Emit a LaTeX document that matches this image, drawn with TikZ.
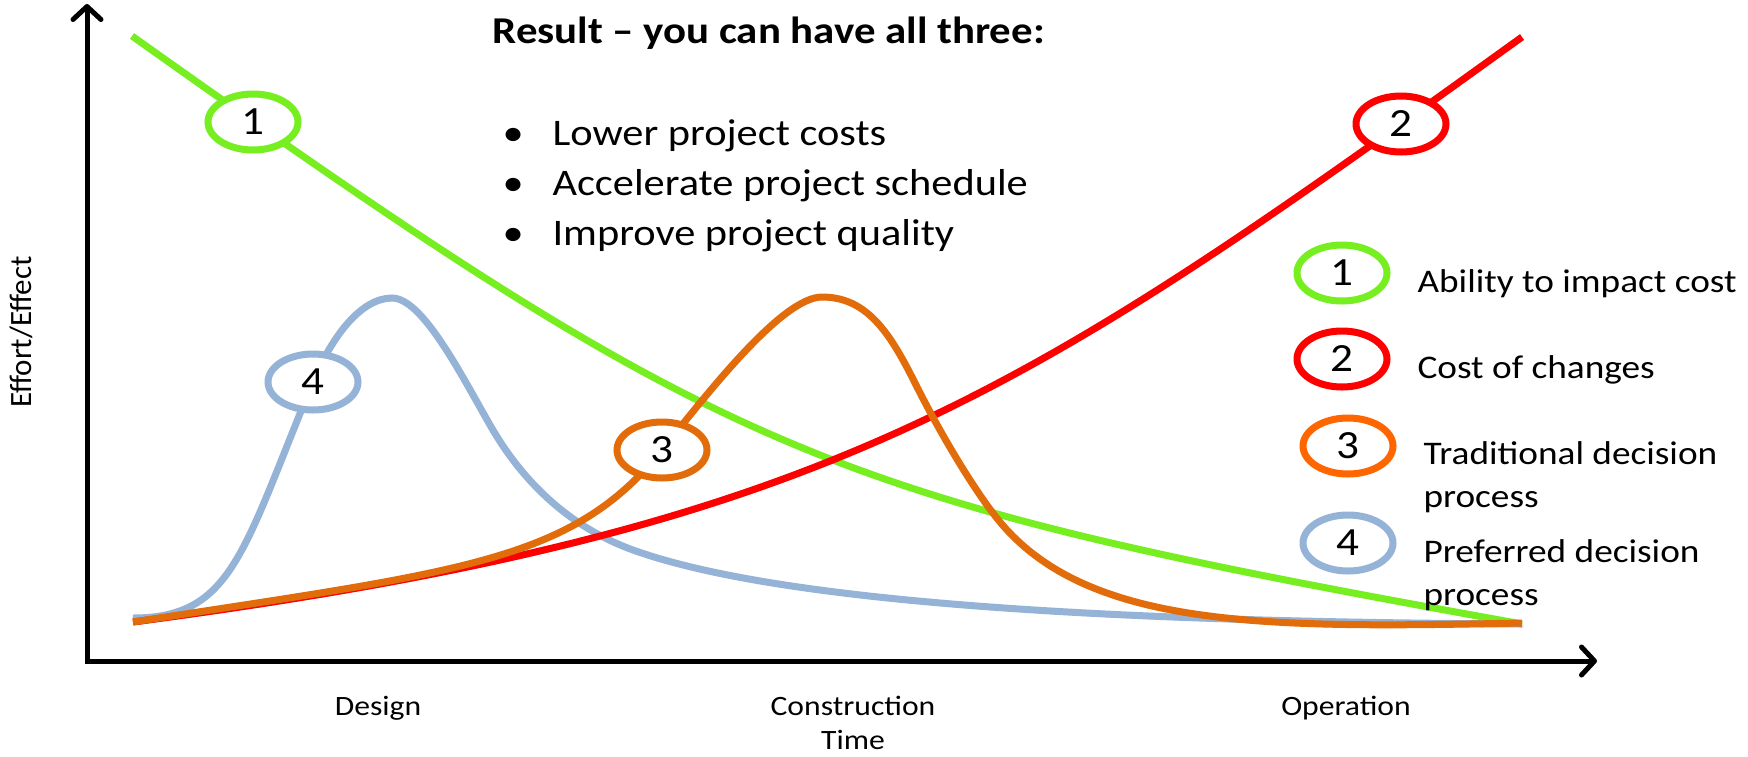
\documentclass[tikz,border=0pt]{standalone}
\usepackage{fontspec}
\setmainfont[FakeStretch=1.13]{Carlito}
\newfontfamily\plainfont{Carlito}
\usetikzlibrary{shapes.geometric,arrows.meta,shadows}
\definecolor{cgreen}{RGB}{118,238,32}
\definecolor{cred}{RGB}{255,0,0}
\definecolor{corange}{RGB}{227,108,10}
\definecolor{cbright}{RGB}{255,102,0}
\definecolor{cblue}{RGB}{149,179,215}
\begin{document}
\begin{tikzpicture}[x=1pt,y=-1pt,
  axis/.style={line width=5pt, line join=miter, {Straight Barb[length=13pt,width=28pt,round]}-{Straight Barb[length=13pt,width=28pt,round]}},
  shade/.style={preaction={draw=black, draw opacity=0.18, transform canvas={shift={(1.5pt,-3pt)}}}},
  curve/.style={line width=7pt, shade},
  badge/.style={ellipse, draw=#1, fill=white, line width=7pt, minimum width=90pt, minimum height=56pt, inner sep=0pt, font=\fontsize{40}{48}\selectfont, drop shadow={opacity=0.25, shadow xshift=1.5pt, shadow yshift=-3pt}},
  lbl/.style={anchor=base west, font=\fontsize{33}{40}\selectfont},
  bul/.style={anchor=base west, font=\fontsize{37.5}{45}\selectfont},
  axlbl/.style={anchor=base, font=\fontsize{28}{34}\selectfont},
]
\path[use as bounding box, fill=white] (0,0) rectangle (1748,756);

% axes
\coordinate (O) at (87,661);
\coordinate (Ytop) at (87,4);
\coordinate (Xend) at (1597,661);
\draw[axis] (Ytop) -- (O) -- (Xend);

% curve end points
\coordinate (gs) at (132,36);
\coordinate (ge) at (1522,624);
\coordinate (rs) at (133,622);
\coordinate (re) at (1522,37);
\coordinate (bs) at (133,618);
\coordinate (be) at (1522,624);
\coordinate (oe) at (1522,623);

% 1: ability to impact cost
\draw[curve, cgreen] (gs) .. controls (732,462) and (822,498) .. (ge);
% 4: preferred decision process
\draw[curve, cblue] (bs) .. controls (233,618) and (243,550) .. (313,382)
  .. controls (333,334) and (362,298) .. (392,298)
  .. controls (422,298) and (460,372.5) .. (490,425)
  .. controls (530,495) and (583,532) .. (633,550)
  .. controls (783,604) and (1122,622) .. (be);
% 2: cost of changes
\draw[curve, cred] (rs) .. controls (833,530) and (1022,397) .. (re);
% 3: traditional decision process
\draw[curve, corange] (rs) .. controls (463,571) and (572,562) .. (662,450)
  .. controls (707,394) and (782,297) .. (822,297)
  .. controls (867,297) and (890,333) .. (915,383)
  .. controls (940,433) and (975,492) .. (1000,522)
  .. controls (1090,630) and (1272,628) .. (oe);

% badges on curves
\node[badge=cgreen] (c1) at (253,122) {1};
\node[badge=cred] (c2) at (1401,124) {2};
\node[badge=corange] (c3) at (662,450) {3};
\node[badge=cblue] (c4) at (313,382) {4};

% legend
\node[badge=cgreen] (l1) at (1342,273) {1};
\node[badge=cred] (l2) at (1342,359) {2};
\node[badge=cbright] (l3) at (1348,446) {3};
\node[badge=cblue] (l4) at (1348,543) {4};
\node[lbl] (t1) at (1414,292) {Ability to impact cost};
\node[lbl] (t2) at (1414,378) {Cost of changes};
\node[lbl] (t3a) at (1420,464) {Traditional decision};
\node[lbl] (t3b) at (1420,507) {process};
\node[lbl] (t4a) at (1420,562) {Preferred decision};
\node[lbl] (t4b) at (1420,605) {process};

% title and bullets
\node[anchor=base west, font=\bfseries\fontsize{37.9}{45}\selectfont] (title) at (489,43) {Result – you can have all three:};
\node[bul] (d1) at (499,145) {•};
\node[bul] (d2) at (499,195) {•};
\node[bul] (d3) at (499,245) {•};
\node[bul] (r1) at (549,145) {Lower project costs};
\node[bul] (r2) at (549,195) {Accelerate project schedule};
\node[bul] (r3) at (549,245) {Improve project quality};

% axis labels
\node[axlbl] (xd) at (378,715) {Design};
\node[axlbl] (xc) at (853,715) {Construction};
\node[axlbl] (xt) at (853,749) {Time};
\node[axlbl] (xo) at (1346,715) {Operation};
\node[anchor=base, rotate=90, font=\plainfont\fontsize{31}{37}\selectfont] (ye) at (31,332) {Effort/Effect};
\end{tikzpicture}
\end{document}
